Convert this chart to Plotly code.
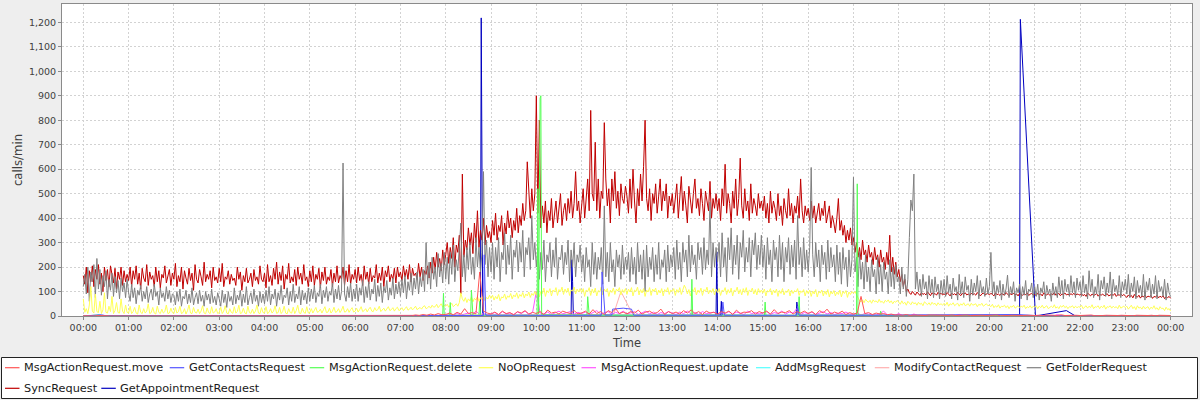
import plotly.graph_objects as go

# ---------------------------------------------------------------- data
# Dense series sampled every 2 minutes from 00:00 to 24:00 (30 values per hour)
DENSE_STEP_MIN = 2
# Low-level series sampled every 5 minutes (12 values per hour)
FINE_STEP_MIN = 5

sync_request = [
    165,130,200,95,185,140,205,120,190,150,210,130,175,100,200,145,190,120,205,160,135,195,110,180,150,200,125,185,140,170,
    145,200,120,185,150,205,130,175,110,195,155,140,210,125,180,150,165,120,200,140,185,115,170,155,205,135,160,190,125,175,
    150,215,120,165,140,200,110,185,155,130,195,145,175,105,210,150,135,190,160,125,220,140,170,150,185,115,200,145,160,135,
    195,140,215,120,160,150,185,130,170,145,155,125,200,150,180,105,165,140,195,135,150,175,120,190,145,160,130,205,150,140,
    175,115,210,140,165,125,195,150,220,130,180,145,205,110,170,150,215,135,160,140,190,125,200,150,175,130,210,145,160,120,
    185,140,205,125,170,150,195,115,180,145,200,130,160,145,190,120,175,140,205,135,165,150,200,125,185,140,210,130,170,150,
    190,135,200,145,170,125,205,150,180,130,195,140,165,155,210,135,175,145,200,120,185,160,205,140,170,150,195,135,200,160,
    180,145,205,160,190,150,210,140,195,165,175,150,215,160,200,145,185,170,205,155,220,175,240,190,260,200,235,185,270,210,
    250,300,215,280,235,320,200,290,260,330,90,580,240,310,270,360,290,340,255,380,300,430,280,350,310,400,290,370,320,345,
    300,390,330,420,310,370,345,410,290,380,335,430,360,400,320,390,350,440,340,410,370,460,390,430,630,480,400,520,430,500,
    900,420,800,360,450,380,470,340,430,390,480,360,410,470,380,440,500,370,430,460,390,480,420,510,400,460,590,430,470,380,
    450,520,400,480,560,430,840,500,470,710,430,560,400,510,480,790,560,450,520,380,560,470,590,440,510,410,540,480,460,530,
    490,420,560,440,600,470,380,520,450,580,470,610,800,480,430,520,390,500,460,540,420,490,560,430,510,470,540,400,490,450,
    500,420,470,540,400,490,570,430,510,450,380,530,470,420,500,560,440,480,410,520,460,390,510,470,430,550,400,480,440,500,
    430,480,390,520,450,620,420,500,460,380,510,440,560,410,480,645,450,400,520,430,470,390,540,420,480,450,410,500,440,470,
    430,490,400,460,380,510,420,470,440,390,500,410,450,370,480,430,400,520,410,460,380,450,420,490,400,560,430,380,450,410,
    440,390,470,400,450,380,430,460,390,440,410,470,380,420,450,360,410,380,340,400,480,350,390,330,370,300,350,310,360,290,
    320,260,300,240,280,230,310,250,270,220,290,240,260,210,280,230,250,200,270,220,240,190,260,210,330,180,240,170,220,160,
    190,140,170,120,150,100,110,95,88,100,92,85,98,90,84,96,88,92,86,99,90,83,95,88,92,85,97,89,93,86,
    91,84,96,88,82,94,87,91,85,97,89,83,92,88,95,86,90,84,93,87,91,85,96,88,82,90,94,87,89,92,
    86,93,88,82,95,87,90,84,92,88,85,96,89,83,91,87,94,86,90,82,93,88,85,91,87,95,84,89,92,86,
    88,84,93,87,90,82,95,88,86,92,84,90,87,96,85,89,92,83,90,88,94,86,89,85,91,87,93,84,90,88,
    85,91,83,88,80,94,86,82,90,84,87,92,81,88,85,90,83,87,91,82,86,89,84,92,80,87,85,90,83,88,
    82,76,86,79,84,74,88,80,77,85,73,82,78,86,75,81,79,84,72,80,77,85,74,81,76,83,71,79,75,80,
    72,
]

get_folder_request = [
    120,170,90,200,60,180,140,210,75,235,110,190,85,165,120,185,70,150,105,175,80,160,95,145,70,155,100,135,75,150,
    95,60,130,75,115,50,105,85,125,60,100,70,120,55,90,110,65,130,80,100,45,115,75,95,60,120,70,105,55,90,
    85,45,100,60,110,40,80,70,105,50,90,55,115,45,75,95,50,105,60,85,40,100,65,90,50,110,55,80,45,95,
    70,40,105,55,90,35,100,60,80,45,115,50,85,65,105,40,90,55,120,45,75,95,50,110,60,85,40,100,55,90,
    50,105,60,120,45,90,70,110,40,95,65,125,50,85,75,115,45,100,60,130,55,90,70,120,45,105,65,95,50,115,
    60,110,70,125,55,95,80,130,50,105,75,120,60,100,85,135,55,110,70,125,65,100,625,90,60,120,75,135,60,110,
    70,130,60,115,85,145,55,120,75,140,65,110,90,150,60,125,80,135,55,120,95,145,65,115,85,155,70,130,90,140,
    80,150,95,165,70,140,105,175,85,155,110,180,90,160,120,190,100,300,130,220,110,240,150,200,120,255,160,215,135,260,
    150,240,130,260,170,290,140,230,185,300,380,160,250,140,280,190,300,170,240,150,320,200,280,180,260,590,210,310,160,280,
    180,300,150,280,200,320,140,260,230,340,170,290,210,330,150,270,240,310,180,300,220,350,160,280,250,320,190,410,230,300,
    200,280,150,260,190,310,140,250,220,300,160,270,200,320,150,240,230,290,170,260,210,310,140,270,200,300,160,250,220,290,
    180,250,140,280,200,230,120,300,170,260,150,240,190,280,130,450,160,260,140,300,180,230,120,270,200,250,150,290,170,240,
    190,260,140,280,170,240,130,300,180,250,150,270,100,290,160,240,190,280,140,250,170,300,150,230,200,270,140,290,180,250,
    200,280,150,310,190,260,140,300,220,270,160,330,180,290,210,250,150,300,230,280,170,320,190,270,210,465,160,300,200,280,
    220,300,160,340,200,280,140,320,230,360,170,290,210,330,150,300,240,350,180,280,220,320,160,310,250,340,190,290,210,330,
    200,290,150,320,210,270,140,310,230,280,160,330,190,300,140,280,220,320,170,290,200,310,150,410,210,280,160,320,190,270,
    180,280,607,250,160,300,200,270,140,290,210,260,150,310,180,280,200,250,140,290,170,260,130,280,190,240,120,270,160,230,
    567,180,240,120,260,150,220,110,250,140,200,100,230,160,190,90,240,130,210,100,220,150,180,90,230,120,200,110,210,140,
    160,90,200,110,170,80,150,320,474,430,580,110,180,100,150,80,170,110,140,70,165,95,150,75,160,100,130,70,145,90,
    150,80,165,95,130,70,155,100,120,65,170,90,140,75,160,105,125,60,150,85,135,100,165,70,145,95,120,80,155,90,
    120,260,90,140,70,125,95,145,65,130,85,110,167,75,120,90,140,60,115,95,130,70,120,85,145,65,110,100,135,75,
    120,80,130,65,115,95,140,70,125,90,110,60,135,85,120,75,160,90,145,70,150,100,130,80,165,95,140,75,155,105,
    140,80,165,95,130,70,185,100,150,75,120,90,170,65,145,110,160,80,135,95,180,70,150,100,125,85,165,75,140,105,
    150,90,170,75,135,100,160,70,145,95,125,80,170,65,140,105,155,75,130,90,165,70,145,100,120,80,150,65,135,95,
    80,
]

noop_request = [
    70,15,30,10,45,120,20,12,90,18,14,60,10,25,95,15,12,40,18,80,10,22,55,14,12,70,20,10,45,15,
    12,40,10,18,35,12,8,45,15,10,30,12,20,50,10,14,35,12,8,40,15,10,28,12,18,45,10,12,32,14,
    10,35,12,18,40,10,14,30,8,22,45,12,10,35,15,12,28,10,20,42,12,9,33,14,10,38,12,16,30,10,
    14,36,10,20,42,12,9,30,15,11,38,12,18,44,10,13,32,12,9,40,14,11,28,10,20,45,12,10,34,14,
    12,38,10,15,30,12,20,42,11,14,35,10,18,40,12,9,30,14,12,36,10,22,44,12,10,32,15,11,38,12,
    14,30,12,22,35,15,18,28,12,25,38,14,16,32,12,20,36,15,18,30,14,24,40,16,18,30,15,26,34,16,
    20,32,16,26,38,18,22,30,17,28,36,20,18,34,22,26,40,18,24,32,20,28,38,22,26,34,20,30,36,22,
    26,34,22,30,38,24,28,36,25,32,40,26,30,35,28,38,42,30,34,40,32,44,36,38,48,34,42,50,36,44,
    40,48,36,46,52,38,44,50,40,55,95,70,60,75,55,70,62,78,58,72,65,80,60,74,68,82,62,76,70,85,
    72,85,65,80,70,88,62,78,74,90,68,82,76,92,70,86,78,95,72,88,80,96,74,90,82,98,76,92,84,100,
    86,108,78,100,92,114,80,104,95,112,82,106,98,116,84,108,100,118,88,110,96,114,84,106,102,118,90,110,98,112,
    96,112,80,106,100,116,84,110,94,114,82,104,98,118,86,110,100,112,80,106,96,114,88,110,102,116,86,108,96,112,
    88,110,98,116,82,106,100,118,86,108,94,112,80,106,98,116,84,110,100,114,86,106,94,112,82,108,98,116,88,106,
    100,112,84,108,96,116,88,106,126,112,90,108,82,110,100,116,86,106,96,114,84,108,100,118,90,106,96,112,86,110,
    96,112,84,106,100,116,88,108,94,114,82,106,100,118,90,108,86,112,96,116,84,106,100,114,90,108,86,112,96,106,
    94,110,82,104,98,112,86,106,94,110,80,104,92,112,86,102,96,110,82,106,92,104,98,112,84,102,96,108,82,104,
    92,106,80,102,90,108,78,100,94,106,82,102,88,108,78,100,90,104,82,98,88,106,78,100,92,104,76,98,88,100,
    92,100,88,70,62,58,66,54,68,60,56,64,52,66,58,62,54,68,56,60,52,64,58,66,54,62,50,60,56,64,
    58,48,62,50,56,44,60,52,46,58,50,54,44,56,48,52,42,58,50,46,54,44,56,48,52,42,54,46,50,44,
    52,44,56,40,50,46,54,42,48,52,40,50,44,54,42,48,50,40,52,44,46,50,38,48,44,52,40,46,50,42,
    44,38,48,34,42,36,46,32,40,38,44,34,42,30,40,36,44,32,38,42,34,40,36,44,30,38,34,42,32,40,
    36,42,30,40,34,44,32,38,42,30,36,40,34,46,32,38,30,42,36,44,34,40,30,38,36,42,32,40,34,38,
    36,44,30,38,42,32,40,34,46,30,38,36,42,30,40,34,44,28,38,36,42,32,40,34,38,30,44,32,36,40,
    34,40,28,36,44,30,38,26,42,32,36,28,40,30,34,38,26,36,30,42,28,34,24,38,30,32,22,36,26,30,
    20,
]

msg_action_move = [
    1,0,1,0,2,0,1,0,0,1,0,1,
    0,1,0,0,1,0,1,0,0,1,0,0,
    1,0,0,1,0,0,1,0,1,0,0,1,
    0,0,1,0,1,0,0,1,0,0,1,0,
    1,0,0,1,0,1,0,0,1,0,0,1,
    0,1,0,0,1,0,2,0,1,0,1,0,
    1,0,2,0,1,3,0,2,1,0,3,1,
    2,0,3,1,4,2,6,3,8,4,10,5,
    6,12,5,15,8,30,10,14,9,180,20,12,
    8,16,6,20,10,14,5,18,12,22,8,15,
    10,18,6,24,12,16,8,20,14,10,22,9,
    12,20,8,26,10,18,6,22,14,30,10,16,
    9,18,12,24,8,16,20,10,14,28,6,18,
    10,16,8,22,12,25,10,18,6,20,12,15,
    8,18,12,20,6,24,10,16,14,22,8,18,
    12,20,8,26,10,16,14,22,8,18,12,20,
    10,18,6,22,12,28,8,16,10,20,6,14,
    8,12,80,10,14,6,12,8,10,5,8,4,
    5,3,6,2,4,3,5,2,4,3,2,4,
    3,2,4,2,3,1,4,2,3,2,3,2,
    3,2,4,1,3,2,3,2,4,2,3,1,
    2,3,1,4,2,3,2,5,2,3,1,3,
    2,3,2,4,1,3,2,3,2,4,2,3,
    2,3,1,3,2,4,2,3,1,3,2,3,
    2,
]

msg_action_update = [
    0,1,0,0,1,0,0,0,1,0,0,0,
    0,0,1,0,0,0,1,0,0,0,1,0,
    0,1,0,0,0,1,0,0,0,1,0,0,
    1,0,0,0,1,0,0,1,0,0,0,1,
    0,0,1,0,0,1,0,0,0,1,0,0,
    0,1,0,0,1,0,0,1,0,0,1,0,
    1,0,1,0,2,0,1,0,2,1,0,1,
    0,1,0,2,1,0,2,1,3,1,2,4,
    2,6,3,10,4,8,12,5,20,6,10,4,
    8,14,5,18,9,12,6,16,10,20,7,14,
    100,12,8,16,6,14,20,9,12,18,7,15,
    10,16,6,14,22,8,12,18,6,15,10,20,
    8,14,18,6,12,20,9,16,6,14,10,18,
    12,6,16,10,20,8,14,6,18,10,12,16,
    6,14,10,18,8,16,12,6,20,10,14,8,
    12,18,6,14,10,20,8,16,12,30,6,14,
    10,16,6,12,18,8,14,6,12,10,16,8,
    6,12,4,10,8,6,3,10,20,4,6,3,
    10,2,3,1,8,2,3,1,2,1,3,1,
    1,2,1,0,6,1,2,1,0,1,2,1,
    1,0,2,0,1,0,0,1,0,1,0,0,
    0,1,0,0,1,0,6,1,0,1,0,0,
    1,0,0,1,0,0,1,0,0,1,0,0,
    0,1,0,0,0,1,0,0,1,0,0,0,
    0,
]

# Sparse series: (HH:MM, value) samples
get_contacts_times = ["00:00", "00:18", "00:24", "00:30", "08:50", "08:51", "08:53", "11:26", "11:27", "11:31",
                      "11:40", "11:41", "11:55", "12:06", "12:09", "14:06", "14:07", "14:09", "15:45", "15:46",
                      "15:48", "17:20", "20:38", "21:00", "24:00"]
get_contacts_values = [0, 3, 5, 1, 2, 250, 3, 3, 180, 4,
                       4, 28, 32, 28, 3, 3, 57, 3, 3, 40,
                       3, 3, 6, 2, 0]

msg_action_delete_times = ["00:00", "00:20", "00:26", "07:56", "07:57", "07:58", "08:05", "08:06", "08:07", "08:33",
                           "08:34", "08:35", "08:36", "08:44", "08:45", "08:46", "10:01", "10:02", "10:03", "10:05",
                           "10:06", "10:07", "11:07", "11:08", "11:10", "13:25", "13:26", "13:27", "15:02", "15:03",
                           "15:04", "15:47", "15:48", "15:49", "17:04", "17:05", "17:06", "17:35", "17:36", "17:37",
                           "24:00"]
msg_action_delete_values = [0, 4, 1, 2, 93, 4, 3, 55, 3, 3,
                            106, 40, 4, 3, 60, 3, 3, 520, 8, 890,
                            900, 5, 4, 79, 4, 3, 150, 4, 3, 57,
                            3, 3, 79, 3, 3, 540, 4, 2, 20, 2,
                            0]

add_msg_times = ["00:00", "00:16", "00:20", "00:26", "00:30", "11:00", "11:04", "11:08", "24:00"]
add_msg_values = [0, 0, 4, 3, 0, 0, 5, 0, 0]

modify_contact_times = ["00:00", "11:42", "11:52", "12:08", "12:12", "24:00"]
modify_contact_values = [0, 5, 100, 4, 0, 0]

get_appointment_times = ["00:00", "08:46", "08:47", "08:49", "10:46", "10:47", "10:48", "10:49", "13:58", "13:59",
                         "14:00", "14:04", "14:05", "14:06", "15:44", "15:45", "15:47", "20:40", "20:41", "21:01",
                         "21:42", "21:54", "24:00"]
get_appointment_values = [0, 2, 1218, 3, 2, 230, 140, 3, 3, 262,
                          5, 4, 60, 3, 2, 57, 3, 3, 1212, 0,
                          22, 0, 0]

x_tick_labels = ["00:00", "01:00", "02:00", "03:00", "04:00", "05:00", "06:00", "07:00", "08:00",
                 "09:00", "10:00", "11:00", "12:00", "13:00", "14:00", "15:00", "16:00", "17:00",
                 "18:00", "19:00", "20:00", "21:00", "22:00", "23:00", "00:00"]

series_names = ["MsgActionRequest.move", "GetContactsRequest", "MsgActionRequest.delete", "NoOpRequest",
                "MsgActionRequest.update", "AddMsgRequest", "ModifyContactRequest", "GetFolderRequest",
                "SyncRequest", "GetAppointmentRequest"]
series_colors = ["#FF5555", "#5555FF", "#55FF55", "#FFFF55", "#FF55FF", "#55FFFF", "#FFAFAF", "#808080",
                 "#C00000", "#0000C0"]


# ---------------------------------------------------------------- helpers
def grid_hours(values, step_min):
    return [i * step_min / 60.0 for i in range(len(values))]


def clock_hours(times):
    out = []
    for t in times:
        h, m = t.split(":")
        out.append(int(h) + int(m) / 60.0)
    return out


series_xy = {
    "MsgActionRequest.move": (grid_hours(msg_action_move, FINE_STEP_MIN), msg_action_move),
    "GetContactsRequest": (clock_hours(get_contacts_times), get_contacts_values),
    "MsgActionRequest.delete": (clock_hours(msg_action_delete_times), msg_action_delete_values),
    "NoOpRequest": (grid_hours(noop_request, DENSE_STEP_MIN), noop_request),
    "MsgActionRequest.update": (grid_hours(msg_action_update, FINE_STEP_MIN), msg_action_update),
    "AddMsgRequest": (clock_hours(add_msg_times), add_msg_values),
    "ModifyContactRequest": (clock_hours(modify_contact_times), modify_contact_values),
    "GetFolderRequest": (grid_hours(get_folder_request, DENSE_STEP_MIN), get_folder_request),
    "SyncRequest": (grid_hours(sync_request, DENSE_STEP_MIN), sync_request),
    "GetAppointmentRequest": (clock_hours(get_appointment_times), get_appointment_values),
}

fig = go.Figure()
# first series drawn last (on top), as in the original renderer
for name, color in reversed(list(zip(series_names, series_colors))):
    xs, ys = series_xy[name]
    fig.add_trace(go.Scatter(x=xs, y=ys, mode="lines", name=name,
                             line=dict(color=color, width=1), showlegend=False,
                             hoverinfo="x+y+name"))

# ---------------------------------------------------------------- layout
W, H = 1200, 400
ML, MR, MT, MB = 62, 8, 4, 84
PW, PH = W - ML - MR, H - MT - MB


def px_x(x):
    return (x - ML) / PW


def px_y(y):
    return (H - MB - y) / PH


font_family = "DejaVu Sans"
grid_color = "#d2d2d2"
axis_color = "#8a8a8a"
text_color = "#404040"

fig.update_layout(
    width=W, height=H,
    margin=dict(l=ML, r=MR, t=MT, b=MB),
    paper_bgcolor="#eeeeee",
    plot_bgcolor="#ffffff",
    template="none",
    font=dict(family=font_family, size=11, color=text_color),
    showlegend=False,
)

fig.update_xaxes(
    range=[-0.470, 24.472],
    tickmode="array", tickvals=list(range(len(x_tick_labels))), ticktext=x_tick_labels,
    ticks="outside", ticklen=3, tickcolor=axis_color,
    tickfont=dict(family=font_family, size=9.5, color=text_color),
    showgrid=True, gridcolor=grid_color, griddash="2px,2px", gridwidth=1,
    showline=True, linecolor=axis_color, linewidth=1, mirror=True,
    zeroline=False, automargin=False,
    title=dict(text="Time", font=dict(family=font_family, size=11.5, color=text_color), standoff=6),
)
fig.update_yaxes(
    range=[0, 1274.8],
    tick0=0, dtick=100, tickformat=",d",
    ticks="outside", ticklen=3, tickcolor=axis_color,
    tickfont=dict(family=font_family, size=9.5, color=text_color),
    showgrid=True, gridcolor=grid_color, griddash="2px,2px", gridwidth=1,
    showline=True, linecolor=axis_color, linewidth=1, mirror=True,
    zeroline=False, automargin=False,
    title=dict(text="calls/min", font=dict(family=font_family, size=11.7, color=text_color), standoff=3),
)

# ---------------------------------------------------------------- legend (box with two rows)
legend_text_x = [23, 187.7, 327.7, 496.7, 599.5, 774, 892.8, 1044.7, 23, 119.3]
legend_row = [0, 0, 0, 0, 0, 0, 0, 0, 1, 1]
row_y = [367.7, 388.3]

shapes = [dict(type="rect", xref="paper", yref="paper",
               x0=px_x(1.5), x1=px_x(1197.5), y0=px_y(357.5), y1=px_y(398.5),
               line=dict(color="#222222", width=1), fillcolor="#ffffff", layer="below")]
annotations = []
for name, color, tx, r in zip(series_names, series_colors, legend_text_x, legend_row):
    yy = px_y(row_y[r])
    shapes.append(dict(type="line", xref="paper", yref="paper",
                       x0=px_x(tx - 18), x1=px_x(tx - 3.5), y0=yy, y1=yy,
                       line=dict(color=color, width=1.2)))
    annotations.append(dict(xref="paper", yref="paper", x=px_x(tx - 1), y=yy,
                            xanchor="left", yanchor="middle", showarrow=False,
                            text=name, font=dict(family=font_family, size=11.3, color="#1a1a1a")))

fig.update_layout(shapes=shapes, annotations=annotations)

# the page body has a default 8px margin; remove it so the chart fills the window exactly
fig.write_html("out.html",
               config={"displayModeBar": False},
               post_script="document.body.style.margin='0';document.body.style.padding='0';"
                           "document.body.style.overflow='hidden';")
